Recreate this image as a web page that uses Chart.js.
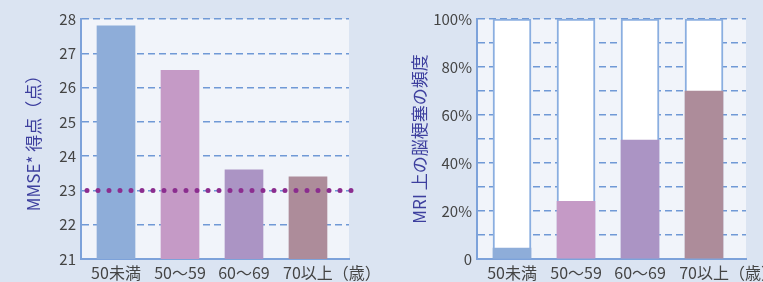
<!DOCTYPE html>
<html>
<head>
<meta charset="utf-8">
<script src="https://cdn.jsdelivr.net/npm/chart.js@4/dist/chart.umd.min.js"></script>
<style>
  html, body { margin: 0; padding: 0; background: #dbe4f2; }
  #wrap { position: relative; width: 763px; height: 282px; overflow: hidden; }
  .box { position: absolute; top: 0; height: 282px; }
  #left { left: 0; width: 381px; }
  #right { left: 381px; width: 382px; }
</style>
</head>
<body>
<div id="wrap">
  <div class="box" id="left"><canvas id="mmse-canvas"></canvas></div>
  <div class="box" id="right"><canvas id="mri-canvas"></canvas></div>
</div>
<script>
  const ageGroups = ["50未満", "50〜59", "60〜69", "70以上"];
  const ageUnit = "（歳）";
  const mmseScores = [27.8, 26.5, 23.6, 23.4];
  const mmseCutoff = 23;
  const mmseTicks = [21, 22, 23, 24, 25, 26, 27, 28];
  const infarctPercent = [4.5, 24, 49.5, 70];
  const infarctTicks = [0, 10, 20, 30, 40, 50, 60, 70, 80, 90, 100];
  const barColors = ["#8eadd9", "#c59ac6", "#ab94c4", "#ad8c9a"];

  Chart.defaults.font.family = '"Noto Sans CJK JP", "Noto Sans", sans-serif';
  Chart.defaults.animation = false;

  const gridColor = "#7099d6";
  const axisColor = "#7da2da";
  const tickColor = "#444444";
  const titleColor = "#3d3f9e";

  const plotBg = {
    id: "plotBg",
    beforeDraw(chart) {
      const { ctx, chartArea: a } = chart;
      ctx.save();
      ctx.fillStyle = "#f1f4fa";
      ctx.fillRect(a.left, a.top, a.right - a.left, a.bottom - a.top);
      ctx.restore();
    },
  };

  // last label carries the unit; pad the front so the group name stays centred
  const xLabel = (i) =>
    i === ageGroups.length - 1 ? "\u3000\u3000\u3000" + ageGroups[i] + ageUnit : ageGroups[i];

  const xAxis = (min, max) => ({
    type: "linear",
    min,
    max,
    offset: false,
    afterBuildTicks: (scale) => {
      scale.ticks = ageGroups.map((_, i) => ({ value: i }));
    },
    afterFit: (scale) => {
      scale.height = 23;
      scale.paddingLeft = 0;
      scale.paddingRight = 0;
    },
    grid: { display: false, drawTicks: false, offset: false },
    border: { display: true, color: axisColor, width: 2 },
    ticks: {
      autoSkip: false,
      maxRotation: 0,
      padding: 4,
      color: tickColor,
      font: { size: 16 },
      callback: (value) => xLabel(value),
    },
  });

  const yAxis = (width, titleText, titlePad, tickList, fmt) => ({
    type: "linear",
    min: tickList[0],
    max: tickList[tickList.length - 1],
    afterBuildTicks: (scale) => {
      scale.ticks = tickList.map((v) => ({ value: v }));
    },
    afterFit: (scale) => {
      scale.width = width;
    },
    grid: { color: gridColor, lineWidth: 1.5, drawTicks: false },
    border: { display: true, color: axisColor, width: 2, dash: [7, 4] },
    ticks: {
      padding: 5,
      color: tickColor,
      font: { size: 15 },
      callback: fmt,
    },
    title: {
      display: true,
      text: titleText,
      color: titleColor,
      font: { size: 17 },
      padding: { top: titlePad, bottom: 0 },
    },
  });

  const xPos = (values) => values.map((v, i) => ({ x: i, y: v }));

  new Chart(document.querySelector("#mmse-canvas"), {
    type: "bar",
    data: {
      datasets: [
        {
          type: "line",
          data: [
            { x: -0.547, y: mmseCutoff },
            { x: 3.68, y: mmseCutoff },
          ],
          borderColor: "#8b2d8f",
          borderWidth: 5,
          borderDash: [0, 11],
          borderDashOffset: 5,
          borderCapStyle: "round",
          pointRadius: 0,
          clip: false,
          order: 0,
        },
        {
          data: xPos(mmseScores),
          backgroundColor: barColors,
          barThickness: 38,
          order: 1,
        },
      ],
    },
    options: {
      responsive: true,
      maintainAspectRatio: false,
      layout: { padding: { left: 0, right: 32, top: 19, bottom: 0 } },
      scales: {
        x: xAxis(-0.547, 3.641),
        y: yAxis(81, "MMSE* 得点（点）", 23, mmseTicks, (v) => String(v)),
      },
      plugins: { legend: { display: false }, tooltip: { enabled: false } },
    },
    plugins: [plotBg],
  });

  new Chart(document.querySelector("#mri-canvas"), {
    type: "bar",
    data: {
      datasets: [
        {
          data: xPos(infarctPercent),
          backgroundColor: barColors,
          barThickness: 38,
          grouped: false,
          order: 0,
        },
        {
          data: xPos(infarctPercent.map(() => 100)),
          backgroundColor: "#ffffff",
          borderColor: "#8aaee0",
          borderWidth: 2,
          borderSkipped: false,
          barThickness: 38,
          grouped: false,
          order: 1,
        },
      ],
    },
    options: {
      responsive: true,
      maintainAspectRatio: false,
      layout: { padding: { left: 0, right: 17, top: 19, bottom: 0 } },
      scales: {
        x: xAxis(-0.547, 3.656),
        y: yAxis(96, "MRI 上の脳梗塞の頻度", 28, infarctTicks, (v) =>
          v === 0 ? "0" : v % 20 === 0 ? v + "%" : ""
        ),
      },
      plugins: { legend: { display: false }, tooltip: { enabled: false } },
    },
    plugins: [plotBg],
  });
</script>
</body>
</html>
